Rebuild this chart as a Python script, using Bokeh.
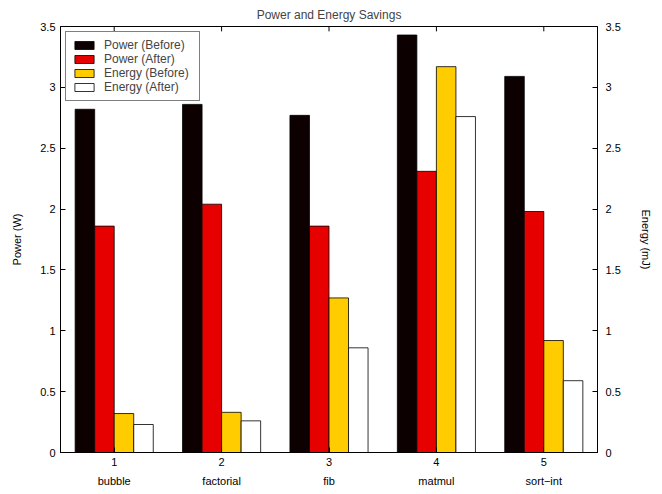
from bokeh.plotting import figure
from bokeh.models import (ColumnDataSource, Range1d, LinearAxis, FixedTicker,
                          NumeralTickFormatter, Legend, LegendItem)
from bokeh.transform import dodge
from bokeh.embed import file_html
from bokeh.resources import INLINE

# ---- data ----
groups = [1, 2, 3, 4, 5]
names = ["bubble", "factorial", "fib", "matmul", "sort\u2212int"]
power_before = [2.82, 2.86, 2.77, 3.43, 3.09]
power_after = [1.86, 2.04, 1.86, 2.31, 1.98]
energy_before = [0.32, 0.33, 1.27, 3.17, 0.92]
energy_after = [0.23, 0.26, 0.86, 2.76, 0.59]
y_ticks = [0, 0.5, 1, 1.5, 2, 2.5, 3, 3.5]
y_max = 3.5

FONT = "Liberation Sans"
FS = "11px"

src = ColumnDataSource(dict(x=groups, pb=power_before, pa=power_after,
                            eb=energy_before, ea=energy_after))

p = figure(output_backend="svg", toolbar_location=None,
           x_range=Range1d(0.5, 5.5), y_range=Range1d(0, y_max),
           title="Power and Energy Savings")
p.frame_width = 537
p.frame_height = 426
p.min_border_left = 60
p.min_border_right = 58
p.min_border_top = 26
p.min_border_bottom = 36
p.background_fill_color = "white"
p.border_fill_color = "white"
p.outline_line_color = "black"
p.outline_line_width = 1
p.xgrid.visible = False
p.ygrid.visible = False

p.title.align = "center"
p.title.text_font = FONT
p.title.text_font_size = "12px"
p.title.text_font_style = "normal"
p.title.standoff = 10

p.extra_y_ranges = {"energy": Range1d(0, y_max)}

w = 0.7273 / 4
colors = ["#0d0000", "#e60000", "#ffcc00", "#ffffff"]
r1 = p.vbar(x=dodge("x", -1.5 * w, range=p.x_range), top="pb", width=w, source=src,
            fill_color=colors[0], line_color="black", line_width=0.8)
r2 = p.vbar(x=dodge("x", -0.5 * w, range=p.x_range), top="pa", width=w, source=src,
            fill_color=colors[1], line_color="black", line_width=0.8)
r3 = p.vbar(x=dodge("x", 0.5 * w, range=p.x_range), top="eb", width=w, source=src,
            fill_color=colors[2], line_color="black", line_width=0.8, y_range_name="energy")
r4 = p.vbar(x=dodge("x", 1.5 * w, range=p.x_range), top="ea", width=w, source=src,
            fill_color=colors[3], line_color="black", line_width=0.8, y_range_name="energy")

# inward ticks along the top edge
p.segment(x0=groups, x1=groups, y0=[y_max] * 5, y1=[y_max - 0.04] * 5,
          line_color="black", line_width=1)

def style_axis(ax):
    ax.axis_line_color = "black"
    ax.major_tick_line_color = "black"
    ax.major_tick_in = 5
    ax.major_tick_out = 0
    ax.minor_tick_line_color = None
    ax.major_label_text_font = FONT
    ax.major_label_text_font_size = FS
    ax.major_label_text_color = "black"
    ax.axis_label_text_font = FONT
    ax.axis_label_text_font_size = FS
    ax.axis_label_text_font_style = "normal"
    ax.axis_label_text_color = "black"

# left axis
yl = p.yaxis[0]
style_axis(yl)
yl.ticker = FixedTicker(ticks=y_ticks)
yl.formatter = NumeralTickFormatter(format="0.[0]")
yl.axis_label = "Power (W)"
yl.major_label_standoff = 5
yl.axis_label_standoff = 14

# right axis
yr = LinearAxis(y_range_name="energy", axis_label="Energy (mJ)")
style_axis(yr)
yr.ticker = FixedTicker(ticks=y_ticks)
yr.formatter = NumeralTickFormatter(format="0.[0]")
yr.major_label_standoff = 8
yr.axis_label_standoff = 16
p.add_layout(yr, "right")

# bottom numeric axis
xb = p.xaxis[0]
style_axis(xb)
xb.ticker = FixedTicker(ticks=groups)
xb.major_label_standoff = 5

# bottom names axis
xn = LinearAxis()
style_axis(xn)
xn.ticker = FixedTicker(ticks=groups)
xn.major_label_overrides = {g: n for g, n in zip(groups, names)}
xn.axis_line_color = None
xn.major_tick_line_color = None
xn.major_label_standoff = 6
p.add_layout(xn, "below")

legend = Legend(items=[
    LegendItem(label="Power (Before)", renderers=[r1]),
    LegendItem(label="Power (After)", renderers=[r2]),
    LegendItem(label="Energy (Before)", renderers=[r3]),
    LegendItem(label="Energy (After)", renderers=[r4]),
], location="top_left")
legend.margin = 5
legend.padding = 6
legend.spacing = 0
legend.glyph_width = 24
legend.glyph_height = 10
legend.label_height = 12
legend.label_width = 89
legend.label_standoff = 8
legend.label_text_font = FONT
legend.label_text_font_size = "12px"
legend.border_line_color = "black"
legend.border_line_width = 1
legend.background_fill_alpha = 1
p.add_layout(legend, "center")

open("out.html", "w").write(file_html(p, INLINE))
